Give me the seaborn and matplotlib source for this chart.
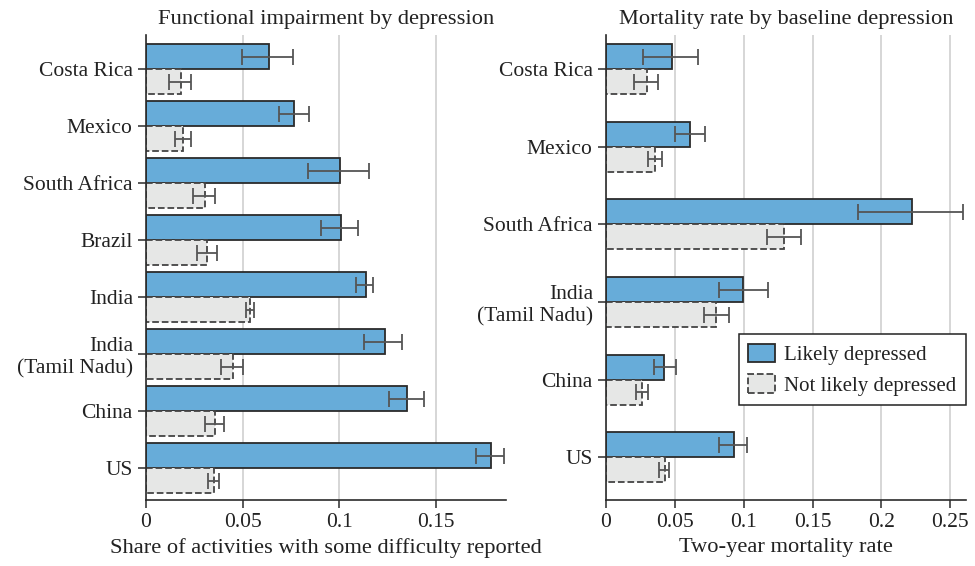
import matplotlib
matplotlib.use("Agg")
import matplotlib.pyplot as plt
import seaborn as sns
import pandas as pd
from matplotlib.patches import Patch

# --- data ---
groups = ["Likely depressed", "Not likely depressed"]

impair_countries = ["Costa Rica", "Mexico", "South Africa", "Brazil", "India",
                    "India\n(Tamil Nadu)", "China", "US"]
impair_dep = [0.0637, 0.0767, 0.1005, 0.1010, 0.1140, 0.1238, 0.1352, 0.1786]
impair_dep_lo = [0.0497, 0.0687, 0.0840, 0.0907, 0.1088, 0.1130, 0.1260, 0.1711]
impair_dep_hi = [0.0762, 0.0845, 0.1155, 0.1098, 0.1176, 0.1326, 0.1440, 0.1853]
impair_not = [0.0180, 0.0193, 0.0306, 0.0316, 0.0539, 0.0450, 0.0357, 0.0352]
impair_not_lo = [0.0120, 0.0149, 0.0244, 0.0264, 0.0518, 0.0389, 0.0306, 0.0323]
impair_not_hi = [0.0233, 0.0233, 0.0357, 0.0368, 0.0560, 0.0503, 0.0404, 0.0378]

mort_countries = ["Costa Rica", "Mexico", "South Africa", "India\n(Tamil Nadu)",
                  "China", "US"]
mort_dep = [0.0480, 0.0610, 0.2222, 0.0996, 0.0422, 0.0928]
mort_dep_lo = [0.0269, 0.0501, 0.1829, 0.0821, 0.0349, 0.0821]
mort_dep_hi = [0.0669, 0.0720, 0.2592, 0.1177, 0.0509, 0.1025]
mort_not = [0.0298, 0.0356, 0.1296, 0.0800, 0.0262, 0.0429]
mort_not_lo = [0.0203, 0.0305, 0.1168, 0.0712, 0.0218, 0.0387]
mort_not_hi = [0.0378, 0.0407, 0.1415, 0.0894, 0.0305, 0.0460]

BLUE = "#67acd9"
GRAY = "#e6e7e6"
EDGE = "#2b2b2b"
ERR = "#555555"

sns.set_theme(style="white")
plt.rcParams["font.family"] = ["Liberation Serif", "DejaVu Serif"]
plt.rcParams["text.color"] = "#222222"
plt.rcParams["axes.labelcolor"] = "#222222"
plt.rcParams["xtick.color"] = "#222222"
plt.rcParams["ytick.color"] = "#222222"


def make_df(countries, dep, not_dep):
    return pd.DataFrame({
        "country": countries * 2,
        "group": [groups[0]] * len(countries) + [groups[1]] * len(countries),
        "value": list(dep) + list(not_dep),
    })


def draw_panel(ax, countries, dep, dep_lo, dep_hi, nd, nd_lo, nd_hi, width):
    df = make_df(countries, dep, nd)
    sns.barplot(data=df, y="country", x="value", hue="group", orient="h",
                palette=[BLUE, GRAY], saturation=1, width=width, errorbar=None,
                legend=False, ax=ax)
    for cont, vals, lo, hi, ls in [(ax.containers[0], dep, dep_lo, dep_hi, "-"),
                                   (ax.containers[1], nd, nd_lo, nd_hi, "--")]:
        ys = []
        for p in cont.patches:
            p.set_edgecolor(EDGE if ls == "-" else "#444444")
            p.set_linewidth(1.3)
            p.set_linestyle(ls)
            ys.append(p.get_y() + p.get_height() / 2)
        xerr = [[v - l for v, l in zip(vals, lo)], [h - v for v, h in zip(vals, hi)]]
        ax.errorbar(vals, ys, xerr=xerr, fmt="none", ecolor=ERR,
                    elinewidth=1.3, capsize=6, capthick=1.3, zorder=5)
    ax.set_ylabel("")
    ax.grid(axis="x", color="#cccccc", linewidth=1.1)
    ax.set_axisbelow(True)
    for s in ["top", "right"]:
        ax.spines[s].set_visible(False)
    for s in ["left", "bottom"]:
        ax.spines[s].set_color(EDGE)
        ax.spines[s].set_linewidth(1.2)
    ax.tick_params(axis="both", which="both", length=6, width=1.1,
                   colors=EDGE, labelsize=15.5, labelcolor="#222222",
                   direction="out", left=True, bottom=True)


fig = plt.figure(figsize=(9.75, 5.66), dpi=100)
ax1 = fig.add_axes([146 / 975, 1 - 500 / 566, 360 / 975, 465 / 566])
ax2 = fig.add_axes([606 / 975, 1 - 500 / 566, 360 / 975, 465 / 566])

draw_panel(ax1, impair_countries, impair_dep, impair_dep_lo, impair_dep_hi,
           impair_not, impair_not_lo, impair_not_hi, width=0.88)
ax1.set_xlim(0, 0.1864)
ax1.set_ylim(7.56, -0.6)
ax1.set_xticks([0, 0.05, 0.1, 0.15])
ax1.set_xticklabels(["0", "0.05", "0.1", "0.15"])
ax1.set_xlabel("Share of activities with some difficulty reported", fontsize=16.2)
ax1.set_title("Functional impairment by depression", fontsize=16.2, pad=8)

draw_panel(ax2, mort_countries, mort_dep, mort_dep_lo, mort_dep_hi,
           mort_not, mort_not_lo, mort_not_hi, width=0.645)
ax2.set_xlim(0, 0.2614)
ax2.set_ylim(5.55, -0.44)
ax2.set_xticks([0, 0.05, 0.1, 0.15, 0.2, 0.25])
ax2.set_xticklabels(["0", "0.05", "0.1", "0.15", "0.2", "0.25"])
ax2.set_xlabel("Two-year mortality rate", fontsize=16.2)
ax2.set_title("Mortality rate by baseline depression", fontsize=16.2, pad=8)

handles = [Patch(facecolor=BLUE, edgecolor=EDGE, linewidth=1.3, label=groups[0]),
           Patch(facecolor=GRAY, edgecolor="#444444", linewidth=1.3,
                 linestyle="--", label=groups[1])]
leg = ax2.legend(handles=handles, loc="center right", bbox_to_anchor=(1.0, 0.28),
                 borderaxespad=0, fontsize=15, frameon=True, fancybox=False,
                 edgecolor="#222222", framealpha=1, handlelength=1.3,
                 handleheight=1.0, borderpad=0.45, labelspacing=0.45,
                 handletextpad=0.45)
leg.get_frame().set_linewidth(1.1)

fig.savefig("out.png", dpi=100)
